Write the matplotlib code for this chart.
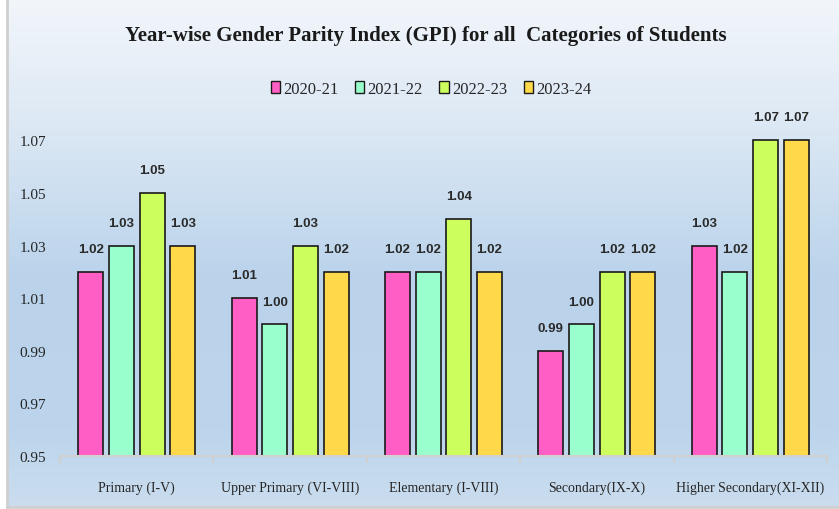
import numpy as np
import matplotlib.pyplot as plt
from matplotlib.patches import Patch

# data
categories = ['Primary (I-V)', 'Upper Primary (VI-VIII)', 'Elementary (I-VIII)',
              'Secondary(IX-X)', 'Higher Secondary(XI-XII)']
years = ['2020-21', '2021-22', '2022-23', '2023-24']
gpi_2020_21 = [1.02, 1.01, 1.02, 0.99, 1.03]
gpi_2021_22 = [1.03, 1.00, 1.02, 1.00, 1.02]
gpi_2022_23 = [1.05, 1.03, 1.04, 1.02, 1.07]
gpi_2023_24 = [1.03, 1.02, 1.02, 1.02, 1.07]
yticks = [0.95, 0.97, 0.99, 1.01, 1.03, 1.05, 1.07]
base = 0.95

series = [gpi_2020_21, gpi_2021_22, gpi_2022_23, gpi_2023_24]
colors = ['#ff5ec4', '#99ffcc', '#ccff5e', '#ffd94a']

serif = ['Liberation Serif', 'DejaVu Serif']
narrow = ['Liberation Sans Narrow', 'Liberation Sans', 'DejaVu Sans']

fig = plt.figure(figsize=(8.39, 5.10), dpi=100)
fig.patch.set_facecolor('white')

# gradient background panel
bg = fig.add_axes([7 / 839, 2 / 510, 832 / 839, 508 / 510], zorder=-1)
stops = np.array([0.0, 0.25, 0.55, 0.85, 1.0])
rgb = np.array([[0xf2, 0xf6, 0xfb], [0xdc, 0xe8, 0xf4], [0xba, 0xd3, 0xeb],
                [0xbc, 0xd5, 0xec], [0xcb, 0xdd, 0xef]]) / 255
t = np.linspace(0, 1, 256)
grad = np.stack([np.interp(t, stops, rgb[:, k]) for k in range(3)], axis=1)
bg.imshow(grad[:, None, :], aspect='auto', extent=(0, 1, 0, 1))
bg.set_xticks([])
bg.set_yticks([])
for side in ['top', 'right']:
    bg.spines[side].set_visible(False)
for side in ['left', 'bottom']:
    bg.spines[side].set_color('#cfcfcf')
    bg.spines[side].set_linewidth(2)

ax = fig.add_axes([60 / 839, 53 / 510, 767 / 839, 342 / 510])
ax.set_facecolor('none')

x = np.arange(len(categories))
width = 0.163
for i, (vals, c, lab) in enumerate(zip(series, colors, years)):
    heights = [v - base for v in vals]
    bars = ax.bar(x + (i - 1.5) * 0.2, heights, width, bottom=base,
                  color=c, edgecolor='#1a1a1a', linewidth=1.2, label=lab)
    for b, v in zip(bars, vals):
        ax.annotate(f'{v:.2f}', (b.get_x() + b.get_width() / 2, v),
                    xytext=(0, 16.5), textcoords='offset points',
                    ha='center', va='center', fontsize=9.5, fontweight='bold',
                    family=narrow, color='#2a2a2a')

ax.set_ylim(base, 1.08)
ax.set_xlim(-0.5, len(categories) - 0.5)

ax.set_yticks(yticks)
ax.set_yticklabels([f'{v:.2f}' for v in yticks], family=serif, fontsize=11,
                   color='#262626')
ax.tick_params(axis='y', length=0, pad=10)

ax.set_xticks(x)
ax.set_xticklabels(categories, family=serif, fontsize=10, color='#262626')
ax.set_xticks(np.arange(len(categories) + 1) - 0.5, minor=True)
ax.tick_params(axis='x', which='major', length=0, pad=18)
ax.tick_params(axis='x', which='minor', length=5, color='#d0d0d0', width=1.5)

for side in ['top', 'right', 'left']:
    ax.spines[side].set_visible(False)
ax.spines['bottom'].set_color('#d0d0d0')
ax.spines['bottom'].set_linewidth(1.5)

fig.text(426 / 839, 1 - 36 / 510,
         'Year-wise Gender Parity Index (GPI) for all  Categories of Students',
         ha='center', va='center', family=serif, fontsize=15,
         fontweight='bold', color='#1a1a1a')

handles = [Patch(facecolor=c, edgecolor='#1a1a1a', linewidth=1.0) for c in colors]
fig.legend(handles, years, loc='center', bbox_to_anchor=(431 / 839, 1 - 90 / 510),
           ncol=4, frameon=False, prop={'family': serif, 'size': 12},
           handlelength=0.55, handleheight=0.75, handletextpad=0.2,
           columnspacing=1.0, labelcolor='#262626')

fig.savefig('out.png', dpi=100)
